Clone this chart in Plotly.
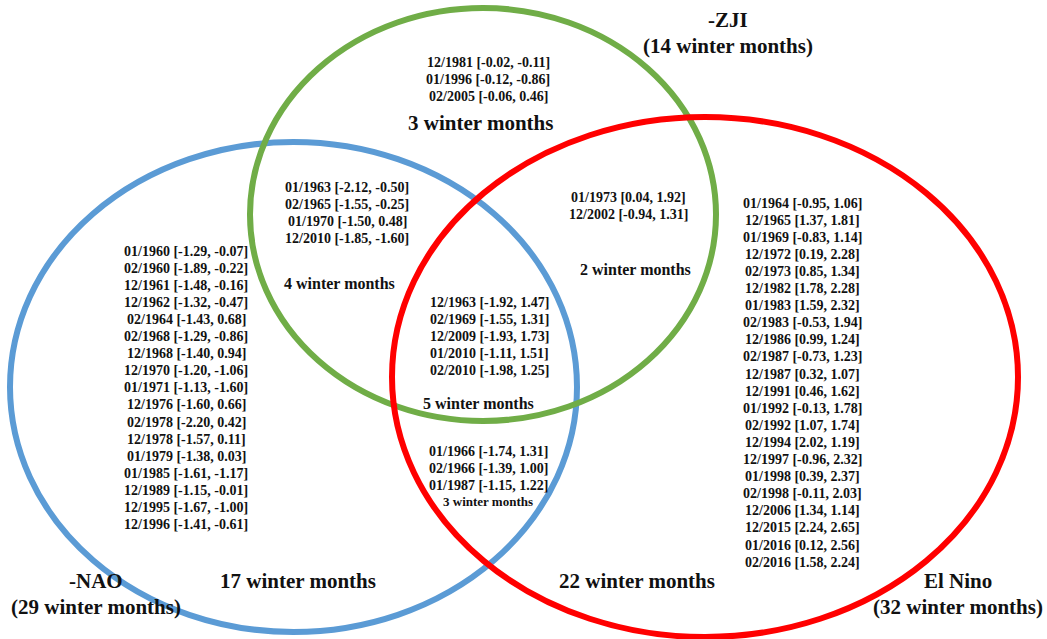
import plotly.graph_objects as go

# ---- data ----
set_names = ["-NAO", "-ZJI", "El Nino"]
set_totals = ["(29 winter months)", "(14 winter months)", "(32 winter months)"]
set_colors = ["#5B9BD5", "#70AD47", "#FF0000"]

zji_only = ["12/1981 [-0.02, -0.11]", "01/1996 [-0.12, -0.86]", "02/2005 [-0.06, 0.46]"]
nao_zji = ["01/1963 [-2.12, -0.50]", "02/1965 [-1.55, -0.25]",
           "01/1970 [-1.50, 0.48]", "12/2010 [-1.85, -1.60]"]
nao_only = ["01/1960 [-1.29, -0.07]", "02/1960 [-1.89, -0.22]", "12/1961 [-1.48, -0.16]",
            "12/1962 [-1.32, -0.47]", "02/1964 [-1.43, 0.68]", "02/1968 [-1.29, -0.86]",
            "12/1968 [-1.40, 0.94]", "12/1970 [-1.20, -1.06]", "01/1971 [-1.13, -1.60]",
            "12/1976 [-1.60, 0.66]", "02/1978 [-2.20, 0.42]", "12/1978 [-1.57, 0.11]",
            "01/1979 [-1.38, 0.03]", "01/1985 [-1.61, -1.17]", "12/1989 [-1.15, -0.01]",
            "12/1995 [-1.67, -1.00]", "12/1996 [-1.41, -0.61]"]
zji_nino = ["01/1973 [0.04, 1.92]", "12/2002 [-0.94, 1.31]"]
all_three = ["12/1963 [-1.92, 1.47]", "02/1969 [-1.55, 1.31]", "12/2009 [-1.93, 1.73]",
             "01/2010 [-1.11, 1.51]", "02/2010 [-1.98, 1.25]"]
nao_nino = ["01/1966 [-1.74, 1.31]", "02/1966 [-1.39, 1.00]", "01/1987 [-1.15, 1.22]"]
nino_only = ["01/1964 [-0.95, 1.06]", "12/1965 [1.37, 1.81]", "01/1969 [-0.83, 1.14]",
             "12/1972 [0.19, 2.28]", "02/1973 [0.85, 1.34]", "12/1982 [1.78, 2.28]",
             "01/1983 [1.59, 2.32]", "02/1983 [-0.53, 1.94]", "12/1986 [0.99, 1.24]",
             "02/1987 [-0.73, 1.23]", "12/1987 [0.32, 1.07]", "12/1991 [0.46, 1.62]",
             "01/1992 [-0.13, 1.78]", "02/1992 [1.07, 1.74]", "12/1994 [2.02, 1.19]",
             "12/1997 [-0.96, 2.32]", "01/1998 [0.39, 2.37]", "02/1998 [-0.11, 2.03]",
             "12/2006 [1.34, 1.14]", "12/2015 [2.24, 2.65]", "01/2016 [0.12, 2.56]",
             "02/2016 [1.58, 2.24]"]
region_counts = {"zji_only": "3 winter months", "nao_zji": "4 winter months",
                 "nao_only": "17 winter months", "zji_nino": "2 winter months",
                 "all_three": "5 winter months", "nao_nino": "3 winter months",
                 "nino_only": "22 winter months"}

# ---- layout geometry (pixels) ----
W, H = 1047, 639
FONT = "Liberation Serif, Times New Roman, serif"
TXT = "#111111"
ellipses = [  # x0, y0, x1, y1 for NAO, ZJI, El Nino
    (10, 142, 577, 632),
    (250, 8, 716, 421),
    (392, 117, 1018, 637),
]

fig = go.Figure()
fig.add_trace(go.Scatter(x=[0, W], y=[0, H], mode="markers",
                         marker=dict(opacity=0), hoverinfo="skip", showlegend=False))

for (x0, y0, x1, y1), col in zip(ellipses, set_colors):
    fig.add_shape(type="circle", xref="x", yref="y", x0=x0, y0=y0, x1=x1, y1=y1,
                  line=dict(color=col, width=6), fillcolor="rgba(0,0,0,0)")

ann = []


def add_text(x, y, text, size):
    ann.append(dict(x=x, y=y, xref="x", yref="y", text="<b>%s</b>" % text,
                    showarrow=False, xanchor="center", yanchor="middle",
                    font=dict(family=FONT, size=size, color=TXT)))


def add_list(lines, cx, y0, step=17.1, size=14):
    for i, t in enumerate(lines):
        add_text(cx, y0 + i * step, t, size)


add_list(zji_only, 488, 62)
add_text(480, 123, region_counts["zji_only"], 21)
add_list(nao_zji, 347, 187)
add_text(339, 283, region_counts["nao_zji"], 16)
add_list(nao_only, 186, 251)
add_text(298, 581, region_counts["nao_only"], 21)
add_list(zji_nino, 628, 197)
add_text(635, 269, region_counts["zji_nino"], 16)
add_list(all_three, 489, 302)
add_text(478, 403, region_counts["all_three"], 16)
add_list(nao_nino, 488, 451)
add_text(488, 501, region_counts["nao_nino"], 13)
add_list(nino_only, 802, 203)
add_text(637, 581, region_counts["nino_only"], 21)

# set labels
label_pos = [(96, 581), (728, 20), (958, 581)]
for (lx, ly), name, tot in zip(label_pos, set_names, set_totals):
    add_text(lx, ly, name, 21)
    add_text(lx, ly + 26, tot, 21)

fig.update_layout(
    width=W, height=H, margin=dict(l=0, r=0, t=0, b=0),
    paper_bgcolor="white", plot_bgcolor="white",
    xaxis=dict(range=[0, W], visible=False, fixedrange=True),
    yaxis=dict(range=[H, 0], visible=False, fixedrange=True),
    annotations=ann, showlegend=False,
)
fig.write_html("out.html", config={"displayModeBar": False},
               post_script="document.body.style.margin='0';document.body.style.overflow='hidden';")
